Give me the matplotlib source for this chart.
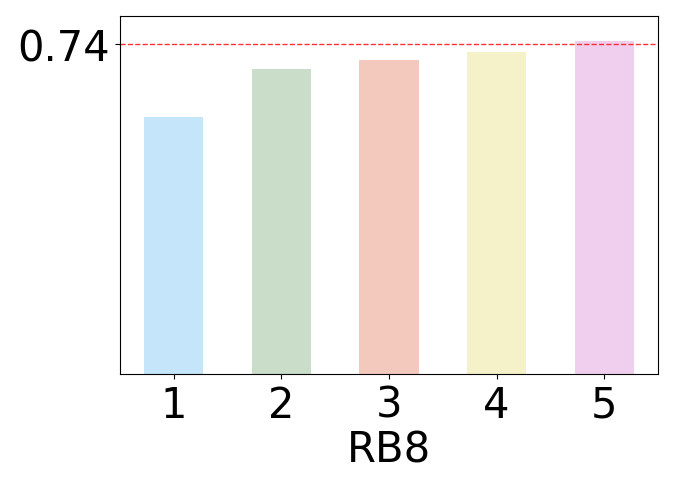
import matplotlib
matplotlib.use("Agg")
import matplotlib.pyplot as plt

# data
labels = ["1", "2", "3", "4", "5"]
values = [0.6866, 0.7215, 0.7280, 0.7338, 0.7418]
colors = ["#c5e5fa", "#c9ddc9", "#f4c9bd", "#f5f1c8", "#f0cfee"]
ref_value = 0.74

fig = plt.figure(figsize=(6.76, 4.89), dpi=100)
ax = fig.add_axes([120 / 676, 1 - 375 / 489, 538 / 676, 358 / 489])

x = list(range(1, len(labels) + 1))
ax.bar(x, values, width=0.55, color=colors)
ax.axhline(ref_value, color="red", linestyle="--", linewidth=1, alpha=0.8)

ax.set_xlim(0.5, 5.5)
ax.set_ylim(0.5, 0.76)
ax.set_xticks(x)
ax.set_xticklabels(labels)
ax.set_yticks([ref_value])
ax.set_yticklabels(["0.74"])
ax.tick_params(labelsize=30)
ax.set_xlabel("RB8", fontsize=30, labelpad=2)

fig.savefig("out.png", dpi=100)
